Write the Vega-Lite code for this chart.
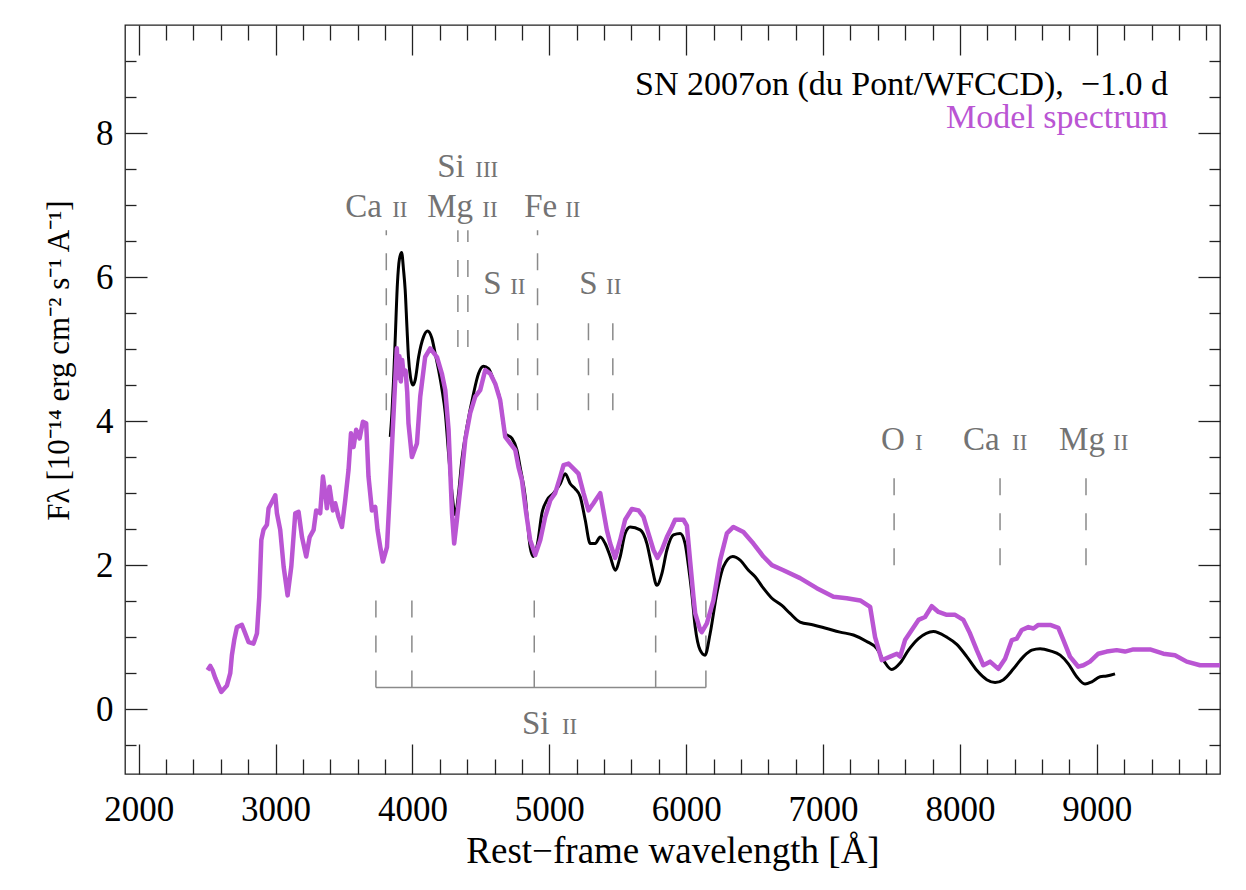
{
  "$schema": "https://vega.github.io/schema/vega-lite/v6.json",
  "width": 1095,
  "height": 749,
  "autosize": {"type": "none"},
  "padding": {"left": 125, "top": 25, "right": 26, "bottom": 116},
  "background": "white",
  "config": {
    "view": {"stroke": "#222222", "strokeWidth": 1.3},
    "font": "Liberation Serif",
    "axis": {"domain": false, "grid": false, "tickColor": "#222222", "tickWidth": 1.3, "offset": 0}
  },
  "datasets": {
    "obs": [
      {"w":3838,"f":3.78},{"w":3850,"f":4.10},{"w":3862,"f":4.57},{"w":3874,"f":5.13},{"w":3890,"f":5.90},{"w":3905,"f":6.25},{"w":3921,"f":6.34},{"w":3935,"f":6.10},{"w":3947,"f":5.82},{"w":3960,"f":5.30},{"w":3971,"f":4.89},{"w":3985,"f":4.62},{"w":4003,"f":4.50},{"w":4020,"f":4.57},{"w":4045,"f":4.89},{"w":4081,"f":5.17},{"w":4110,"f":5.25},{"w":4142,"f":5.15},{"w":4165,"f":4.95},{"w":4190,"f":4.72},{"w":4215,"f":4.45},{"w":4240,"f":4.11},{"w":4264,"f":3.55},{"w":4289,"f":3.00},{"w":4313,"f":2.70},{"w":4337,"f":3.00},{"w":4361,"f":3.46},{"w":4398,"f":3.92},{"w":4446,"f":4.38},{"w":4483,"f":4.66},{"w":4519,"f":4.76},{"w":4556,"f":4.73},{"w":4592,"f":4.57},{"w":4641,"f":4.29},{"w":4678,"f":3.83},{"w":4727,"f":3.76},{"w":4763,"f":3.60},{"w":4787,"f":3.36},{"w":4824,"f":2.95},{"w":4860,"f":2.25},{"w":4884,"f":2.12},{"w":4914,"f":2.30},{"w":4946,"f":2.72},{"w":4982,"f":2.90},{"w":5031,"f":3.00},{"w":5080,"f":3.13},{"w":5116,"f":3.27},{"w":5153,"f":3.13},{"w":5189,"f":3.06},{"w":5226,"f":2.95},{"w":5262,"f":2.63},{"w":5299,"f":2.30},{"w":5335,"f":2.30},{"w":5372,"f":2.39},{"w":5408,"f":2.30},{"w":5445,"f":2.12},{"w":5481,"f":1.93},{"w":5518,"f":2.12},{"w":5554,"f":2.44},{"w":5591,"f":2.53},{"w":5664,"f":2.49},{"w":5713,"f":2.30},{"w":5749,"f":1.98},{"w":5786,"f":1.72},{"w":5822,"f":1.88},{"w":5859,"f":2.21},{"w":5907,"f":2.42},{"w":5956,"f":2.44},{"w":5992,"f":2.30},{"w":6017,"f":1.98},{"w":6041,"f":1.61},{"w":6066,"f":1.14},{"w":6102,"f":0.82},{"w":6138,"f":0.75},{"w":6175,"f":1.05},{"w":6224,"f":1.61},{"w":6272,"f":1.98},{"w":6340,"f":2.12},{"w":6394,"f":2.07},{"w":6455,"f":1.93},{"w":6504,"f":1.84},{"w":6564,"f":1.68},{"w":6626,"f":1.54},{"w":6699,"f":1.44},{"w":6759,"f":1.33},{"w":6832,"f":1.21},{"w":6930,"f":1.17},{"w":7027,"f":1.12},{"w":7124,"f":1.07},{"w":7222,"f":1.03},{"w":7319,"f":0.94},{"w":7393,"f":0.84},{"w":7441,"f":0.68},{"w":7502,"f":0.55},{"w":7563,"f":0.64},{"w":7624,"f":0.82},{"w":7697,"f":0.98},{"w":7806,"f":1.08},{"w":7904,"f":1.00},{"w":7977,"f":0.90},{"w":8050,"f":0.73},{"w":8123,"f":0.54},{"w":8196,"f":0.41},{"w":8257,"f":0.37},{"w":8318,"f":0.41},{"w":8391,"f":0.56},{"w":8464,"f":0.73},{"w":8525,"f":0.82},{"w":8586,"f":0.84},{"w":8659,"f":0.81},{"w":8732,"f":0.75},{"w":8792,"f":0.63},{"w":8853,"f":0.45},{"w":8914,"f":0.35},{"w":8963,"f":0.38},{"w":9024,"f":0.45},{"w":9072,"f":0.46},{"w":9133,"f":0.49}
    ],
    "model": [
      {"w":2503,"f":0.54},{"w":2523,"f":0.60},{"w":2540,"f":0.54},{"w":2560,"f":0.43},{"w":2603,"f":0.24},{"w":2645,"f":0.33},{"w":2669,"f":0.50},{"w":2681,"f":0.75},{"w":2698,"f":0.96},{"w":2718,"f":1.14},{"w":2754,"f":1.17},{"w":2779,"f":1.05},{"w":2803,"f":0.93},{"w":2839,"f":0.91},{"w":2864,"f":1.05},{"w":2881,"f":1.56},{"w":2896,"f":2.35},{"w":2912,"f":2.49},{"w":2937,"f":2.56},{"w":2949,"f":2.79},{"w":2974,"f":2.88},{"w":2998,"f":2.97},{"w":3010,"f":2.72},{"w":3034,"f":2.49},{"w":3059,"f":1.98},{"w":3088,"f":1.58},{"w":3115,"f":1.98},{"w":3144,"f":2.72},{"w":3168,"f":2.74},{"w":3193,"f":2.39},{"w":3224,"f":2.12},{"w":3249,"f":2.39},{"w":3278,"f":2.49},{"w":3297,"f":2.76},{"w":3326,"f":2.72},{"w":3346,"f":3.23},{"w":3363,"f":3.00},{"w":3375,"f":2.79},{"w":3394,"f":3.09},{"w":3419,"f":2.76},{"w":3436,"f":2.86},{"w":3460,"f":2.67},{"w":3485,"f":2.53},{"w":3509,"f":2.90},{"w":3533,"f":3.32},{"w":3551,"f":3.83},{"w":3570,"f":3.64},{"w":3589,"f":3.88},{"w":3614,"f":3.76},{"w":3638,"f":3.99},{"w":3662,"f":3.97},{"w":3679,"f":3.23},{"w":3704,"f":2.76},{"w":3728,"f":2.81},{"w":3745,"f":2.49},{"w":3765,"f":2.25},{"w":3784,"f":2.05},{"w":3814,"f":2.25},{"w":3833,"f":2.95},{"w":3850,"f":3.64},{"w":3867,"f":4.29},{"w":3886,"f":5.01},{"w":3895,"f":4.60},{"w":3905,"f":4.90},{"w":3915,"f":4.55},{"w":3925,"f":4.85},{"w":3935,"f":4.65},{"w":3950,"f":4.70},{"w":3962,"f":4.40},{"w":3971,"f":3.97},{"w":3996,"f":3.50},{"w":4033,"f":3.69},{"w":4057,"f":4.34},{"w":4093,"f":4.89},{"w":4130,"f":5.01},{"w":4179,"f":4.89},{"w":4215,"f":4.66},{"w":4240,"f":4.43},{"w":4264,"f":3.88},{"w":4289,"f":2.72},{"w":4305,"f":2.30},{"w":4325,"f":2.63},{"w":4361,"f":3.27},{"w":4386,"f":3.74},{"w":4422,"f":4.11},{"w":4459,"f":4.34},{"w":4495,"f":4.43},{"w":4532,"f":4.71},{"w":4568,"f":4.66},{"w":4605,"f":4.52},{"w":4641,"f":4.29},{"w":4678,"f":3.78},{"w":4714,"f":3.69},{"w":4751,"f":3.60},{"w":4775,"f":3.36},{"w":4800,"f":3.18},{"w":4831,"f":2.72},{"w":4860,"f":2.35},{"w":4897,"f":2.14},{"w":4934,"f":2.35},{"w":4970,"f":2.67},{"w":5007,"f":2.90},{"w":5043,"f":3.00},{"w":5080,"f":3.23},{"w":5104,"f":3.39},{"w":5140,"f":3.41},{"w":5177,"f":3.34},{"w":5213,"f":3.27},{"w":5250,"f":3.00},{"w":5286,"f":2.76},{"w":5323,"f":2.86},{"w":5372,"f":3.00},{"w":5420,"f":2.49},{"w":5445,"f":2.30},{"w":5481,"f":2.10},{"w":5518,"f":2.35},{"w":5554,"f":2.63},{"w":5603,"f":2.78},{"w":5652,"f":2.76},{"w":5688,"f":2.67},{"w":5724,"f":2.44},{"w":5761,"f":2.21},{"w":5790,"f":2.10},{"w":5822,"f":2.21},{"w":5859,"f":2.39},{"w":5895,"f":2.53},{"w":5919,"f":2.63},{"w":5980,"f":2.63},{"w":6005,"f":2.55},{"w":6029,"f":2.05},{"w":6053,"f":1.56},{"w":6066,"f":1.33},{"w":6102,"f":1.10},{"w":6114,"f":1.07},{"w":6151,"f":1.19},{"w":6199,"f":1.51},{"w":6248,"f":2.07},{"w":6297,"f":2.44},{"w":6345,"f":2.53},{"w":6418,"f":2.46},{"w":6491,"f":2.30},{"w":6564,"f":2.12},{"w":6626,"f":2.00},{"w":6710,"f":1.93},{"w":6832,"f":1.82},{"w":6954,"f":1.68},{"w":7076,"f":1.56},{"w":7173,"f":1.54},{"w":7271,"f":1.51},{"w":7344,"f":1.42},{"w":7380,"f":1.00},{"w":7429,"f":0.68},{"w":7490,"f":0.73},{"w":7539,"f":0.77},{"w":7563,"f":0.73},{"w":7599,"f":0.96},{"w":7648,"f":1.10},{"w":7697,"f":1.24},{"w":7745,"f":1.28},{"w":7794,"f":1.43},{"w":7843,"f":1.35},{"w":7904,"f":1.31},{"w":7965,"f":1.31},{"w":8025,"f":1.24},{"w":8074,"f":1.05},{"w":8123,"f":0.82},{"w":8171,"f":0.61},{"w":8220,"f":0.66},{"w":8281,"f":0.56},{"w":8330,"f":0.70},{"w":8379,"f":0.96},{"w":8415,"f":0.98},{"w":8452,"f":1.10},{"w":8500,"f":1.14},{"w":8537,"f":1.12},{"w":8573,"f":1.17},{"w":8659,"f":1.17},{"w":8719,"f":1.13},{"w":8756,"f":0.96},{"w":8804,"f":0.73},{"w":8865,"f":0.59},{"w":8902,"f":0.61},{"w":8950,"f":0.66},{"w":9011,"f":0.77},{"w":9072,"f":0.80},{"w":9145,"f":0.82},{"w":9206,"f":0.80},{"w":9267,"f":0.83},{"w":9389,"f":0.83},{"w":9486,"f":0.77},{"w":9571,"f":0.75},{"w":9657,"f":0.66},{"w":9754,"f":0.61},{"w":9851,"f":0.61},{"w":9900,"f":0.61}
    ],
    "lines": [
      {"w":3809,"lo":4.15,"hi":6.65},{"w":4332,"lo":5.03,"hi":6.65},{"w":4405,"lo":5.03,"hi":6.65},{"w":4914,"lo":4.15,"hi":6.65},
      {"w":4770,"lo":4.15,"hi":5.38},{"w":5286,"lo":4.15,"hi":5.38},{"w":5464,"lo":4.15,"hi":5.38},
      {"w":7519,"lo":2.0,"hi":3.23},{"w":8293,"lo":2.0,"hi":3.23},{"w":8921,"lo":2.0,"hi":3.23},
      {"w":3733,"lo":0.3,"hi":1.55},{"w":3996,"lo":0.3,"hi":1.55},{"w":4890,"lo":0.3,"hi":1.55},{"w":5777,"lo":0.3,"hi":1.55},{"w":6144,"lo":0.3,"hi":1.55}
    ],
    "labels": [
      {"w":3509,"f":6.83,"t":"Ca","k":"el"},{"w":3852,"f":6.83,"t":"II","k":"ion"},
      {"w":4181,"f":7.39,"t":"Si","k":"el"},{"w":4459,"f":7.39,"t":"III","k":"ion"},
      {"w":4108,"f":6.83,"t":"Mg","k":"el"},{"w":4510,"f":6.83,"t":"II","k":"ion"},
      {"w":4817,"f":6.83,"t":"Fe","k":"el"},{"w":5116,"f":6.83,"t":"II","k":"ion"},
      {"w":4517,"f":5.76,"t":"S","k":"el"},{"w":4714,"f":5.76,"t":"II","k":"ion"},
      {"w":5218,"f":5.76,"t":"S","k":"el"},{"w":5415,"f":5.76,"t":"II","k":"ion"},
      {"w":7424,"f":3.60,"t":"O","k":"el"},{"w":7672,"f":3.60,"t":"I","k":"ion"},
      {"w":8023,"f":3.60,"t":"Ca","k":"el"},{"w":8381,"f":3.60,"t":"II","k":"ion"},
      {"w":8724,"f":3.60,"t":"Mg","k":"el"},{"w":9119,"f":3.60,"t":"II","k":"ion"},
      {"w":4800,"f":-0.35,"t":"Si","k":"el"},{"w":5092,"f":-0.35,"t":"II","k":"ion"}
    ],
    "legend": [
      {"w":9520,"f":8.53,"t":"SN 2007on (du Pont/WFCCD), \u00a0−1.0 d","s":"obs"},
      {"w":9520,"f":8.07,"t":"Model spectrum","s":"model"}
    ]
  },
  "resolve": {"axis": {"x": "independent", "y": "independent"}},
  "layer": [
    {
      "data": {"values": [{"a":3733,"b":6144,"f":0.3}]},
      "mark": {"type": "rule", "stroke": "#8a8a8a", "strokeWidth": 1.5},
      "encoding": {
        "x": {"field": "a", "type": "quantitative", "scale": {"domain": [1900, 9900], "nice": false, "zero": false}, "axis": null},
        "x2": {"field": "b"},
        "y": {"field": "f", "type": "quantitative", "scale": {"domain": [-0.9, 9.5], "nice": false, "zero": false}, "axis": null}
      }
    },
    {
      "data": {"name": "lines"},
      "mark": {"type": "rule", "stroke": "#8a8a8a", "strokeWidth": 1.5, "strokeDash": [17, 18]},
      "encoding": {
        "x": {"field": "w", "type": "quantitative", "scale": {"domain": [1900, 9900], "nice": false, "zero": false},
          "axis": {"orient": "top", "values": [2200,2400,2600,2800,3200,3400,3600,3800,4200,4400,4600,4800,5200,5400,5600,5800,6200,6400,6600,6800,7200,7400,7600,7800,8200,8400,8600,8800,9200,9400,9600,9800],
            "labels": false, "title": null, "tickSize": -15}},
        "y": {"field": "lo", "type": "quantitative", "scale": {"domain": [-0.9, 9.5], "nice": false, "zero": false},
          "axis": {"orient": "right", "values": [-0.5,0.5,1,1.5,2.5,3,3.5,4.5,5,5.5,6.5,7,7.5,8.5,9],
            "labels": false, "title": null, "tickSize": -11}},
        "y2": {"field": "hi"}
      }
    },
    {
      "data": {"name": "labels"},
      "transform": [{"filter": "datum.k === 'el'"}],
      "mark": {"type": "text", "align": "left", "baseline": "alphabetic", "font": "Liberation Serif", "fontSize": 33, "fill": "#737373"},
      "encoding": {
        "x": {"field": "w", "type": "quantitative", "scale": {"domain": [1900, 9900], "nice": false, "zero": false}, "axis": null},
        "y": {"field": "f", "type": "quantitative", "scale": {"domain": [-0.9, 9.5], "nice": false, "zero": false}, "axis": null},
        "text": {"field": "t"}
      }
    },
    {
      "data": {"name": "labels"},
      "transform": [{"filter": "datum.k === 'ion'"}],
      "mark": {"type": "text", "align": "left", "baseline": "alphabetic", "font": "Liberation Serif", "fontSize": 23, "fill": "#737373"},
      "encoding": {
        "x": {"field": "w", "type": "quantitative", "scale": {"domain": [1900, 9900], "nice": false, "zero": false}, "axis": null},
        "y": {"field": "f", "type": "quantitative", "scale": {"domain": [-0.9, 9.5], "nice": false, "zero": false}, "axis": null},
        "text": {"field": "t"}
      }
    },
    {
      "data": {"name": "obs"},
      "mark": {"type": "line", "stroke": "black", "strokeWidth": 3, "interpolate": "monotone", "strokeJoin": "round"},
      "encoding": {
        "x": {"field": "w", "type": "quantitative", "scale": {"domain": [1900, 9900], "nice": false, "zero": false},
          "axis": {"orient": "bottom", "values": [2000,3000,4000,5000,6000,7000,8000,9000],
            "format": "d", "tickSize": -30,
            "labelPadding": 48, "labelFont": "Liberation Serif", "labelFontSize": 35, "labelColor": "black", "labelOverlap": false, "labelFlush": false, "labelBound": false,
            "title": "Rest−frame wavelength [Å]", "titleFont": "Liberation Serif", "titleFontSize": 37, "titleFontWeight": "normal", "titleColor": "black", "titleY": 88, "titleBaseline": "alphabetic"}},
        "y": {"field": "f", "type": "quantitative", "scale": {"domain": [-0.9, 9.5], "nice": false, "zero": false},
          "axis": {"orient": "left", "values": [0,2,4,6,8],
            "format": "d", "tickSize": -22,
            "labelPadding": 34, "labelFont": "Liberation Serif", "labelFontSize": 35, "labelColor": "black", "labelOverlap": false, "labelFlush": false, "labelBound": false,
            "title": "Fλ [10⁻¹⁴ erg cm⁻² s⁻¹ A⁻¹]", "titleFont": "Liberation Serif", "titleFontSize": 31, "titleFontWeight": "normal", "titleColor": "black", "titleX": -57, "titleY": 335, "titleBaseline": "alphabetic", "titleAngle": -90}}
      }
    },
    {
      "data": {"name": "model"},
      "mark": {"type": "line", "stroke": "#BA55D3", "strokeWidth": 4.5, "strokeJoin": "round", "clip": true},
      "encoding": {
        "x": {"field": "w", "type": "quantitative", "scale": {"domain": [1900, 9900], "nice": false, "zero": false},
          "axis": {"orient": "top", "values": [2000,3000,4000,5000,6000,7000,8000,9000],
            "labels": false, "title": null, "tickSize": -30}},
        "y": {"field": "f", "type": "quantitative", "scale": {"domain": [-0.9, 9.5], "nice": false, "zero": false},
          "axis": {"orient": "right", "values": [0,2,4,6,8],
            "labels": false, "title": null, "tickSize": -22}}
      }
    },
    {
      "data": {"name": "legend"},
      "mark": {"type": "text", "align": "right", "baseline": "alphabetic", "font": "Liberation Serif", "fontSize": 34},
      "encoding": {
        "x": {"field": "w", "type": "quantitative", "scale": {"domain": [1900, 9900], "nice": false, "zero": false},
          "axis": {"orient": "bottom", "values": [2200,2400,2600,2800,3200,3400,3600,3800,4200,4400,4600,4800,5200,5400,5600,5800,6200,6400,6600,6800,7200,7400,7600,7800,8200,8400,8600,8800,9200,9400,9600,9800],
            "labels": false, "title": null, "tickSize": -15}},
        "y": {"field": "f", "type": "quantitative", "scale": {"domain": [-0.9, 9.5], "nice": false, "zero": false},
          "axis": {"orient": "left", "values": [-0.5,0.5,1,1.5,2.5,3,3.5,4.5,5,5.5,6.5,7,7.5,8.5,9],
            "labels": false, "title": null, "tickSize": -11}},
        "text": {"field": "t"},
        "color": {"field": "s", "type": "nominal", "scale": {"domain": ["obs", "model"], "range": ["black", "#BA55D3"]}, "legend": null}
      }
    }
  ]
}
